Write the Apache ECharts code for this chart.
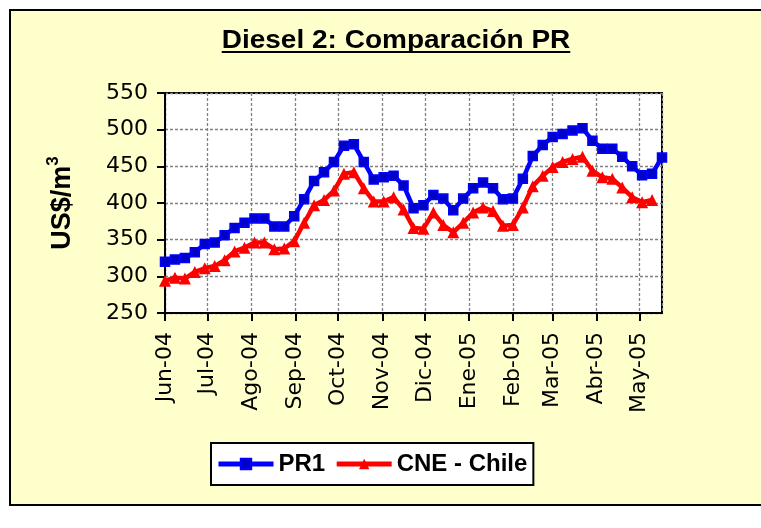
<!DOCTYPE html>
<html>
<head>
<meta charset="utf-8">
<script src="https://cdn.jsdelivr.net/npm/echarts@6/dist/echarts.min.js"></script>
<style>
  html, body { margin: 0; padding: 0; background: #fff; }
  #chart { width: 761px; height: 528px; }
</style>
</head>
<body>
<div id="chart"></div>
<script>
// weekly observation dates
var weeks = [
  '2004-06-01','2004-06-08','2004-06-15','2004-06-22','2004-06-29',
  '2004-07-06','2004-07-13','2004-07-20','2004-07-27',
  '2004-08-03','2004-08-10','2004-08-17','2004-08-24','2004-08-31',
  '2004-09-07','2004-09-14','2004-09-21','2004-09-28',
  '2004-10-05','2004-10-12','2004-10-19','2004-10-26',
  '2004-11-02','2004-11-09','2004-11-16','2004-11-23','2004-11-30',
  '2004-12-07','2004-12-14','2004-12-21','2004-12-28',
  '2005-01-04','2005-01-11','2005-01-18','2005-01-25',
  '2005-02-01','2005-02-08','2005-02-15','2005-02-22',
  '2005-03-01','2005-03-08','2005-03-15','2005-03-22','2005-03-29',
  '2005-04-05','2005-04-12','2005-04-19','2005-04-26',
  '2005-05-03','2005-05-10','2005-05-17'
];

var pr1 = [
  320, 323, 325, 333, 344, 346, 356, 366, 373, 379,
  379, 368, 368, 382, 405, 430, 442, 456, 478, 480,
  456, 432, 435, 437, 424, 393, 397, 411, 406, 390,
  406, 420, 428, 420, 405, 406, 433, 464, 479, 490,
  494, 499, 502, 485, 474, 474, 463, 450, 438, 440,
  462
];

// CNE series stops one week earlier
var cne = [
  294, 298, 297, 306, 311, 314, 322, 334, 339, 346,
  346, 337, 338, 348, 373, 397, 404, 417, 440, 442,
  420, 402, 402, 408, 391, 366, 365, 387, 370, 360,
  373, 387, 394, 389, 369, 370, 394, 423, 437, 449,
  456, 460, 463, 444, 435, 433, 421, 408, 401, 404
];

var meses = ['Ene','Feb','Mar','Abr','May','Jun','Jul','Ago','Sep','Oct','Nov','Dic'];
var yTicks = { min: 250, max: 550, step: 50 };
var titulo = 'Diesel 2: Comparación PR';

function toUTC(s) {
  var p = s.split('-');
  return Date.UTC(+p[0], +p[1] - 1, +p[2]);
}
var times = weeks.map(toUTC);

function pairs(vals) {
  return vals.map(function (v, i) { return [times[i], v]; });
}

// title is drawn a bit wider than normal, like the source
var titleFont = 'bold 25px "Liberation Sans", Arial, sans-serif';
var titleScale = 1.12;
var cv = document.createElement('canvas').getContext('2d');
cv.font = titleFont;
var titleW = cv.measureText(titulo).width * titleScale;
var titleX = 396;

var labelFont = '"DejaVu Sans", sans-serif';
var boldFont = '"Liberation Sans", Arial, sans-serif';

var chart = echarts.init(document.getElementById('chart'), null, { renderer: 'canvas' });

var option = {
  animation: false,
  useUTC: true,
  backgroundColor: '#fff',
  graphic: [
    {
      type: 'rect', z: -10,
      shape: { x: 10, y: 10, width: 770, height: 495 },
      style: { fill: '#ffffcc', stroke: '#000', lineWidth: 2 }
    },
    {
      type: 'text', x: titleX, y: 41, scaleX: titleScale,
      style: {
        text: titulo, font: titleFont, fill: '#000',
        textAlign: 'center', textVerticalAlign: 'middle'
      }
    },
    {
      type: 'line',
      shape: { x1: titleX - titleW / 2, y1: 52, x2: titleX + titleW / 2, y2: 52 },
      style: { stroke: '#000', lineWidth: 2 }
    }
  ],
  grid: {
    left: 165, right: 99, top: 93, bottom: 215,
    show: true, backgroundColor: '#fff', borderColor: '#000', borderWidth: 2
  },
  legend: {
    left: 211, top: 443,
    backgroundColor: '#fff', borderColor: '#000', borderWidth: 2, borderRadius: 0,
    padding: [9, 6, 9, 5],
    itemWidth: 55, itemHeight: 13, itemGap: 9,
    lineStyle: { width: 5 },
    textStyle: {
      fontFamily: boldFont, fontWeight: 'bold', fontSize: 24, color: '#000'
    },
    data: ['PR1', 'CNE - Chile']
  },
  xAxis: {
    type: 'time',
    min: times[0],
    max: times[times.length - 1],
    splitNumber: 12,
    axisLine: { lineStyle: { color: '#000', width: 2 } },
    axisTick: { show: true, length: 8, lineStyle: { color: '#000', width: 2 } },
    axisLabel: {
      rotate: 90, margin: 19, color: '#000', fontSize: 22,
      fontFamily: labelFont,
      hideOverlap: false,
      formatter: function (val) {
        var d = new Date(val);
        if (d.getUTCDate() !== 1) return '';
        return meses[d.getUTCMonth()] + '-' + String(d.getUTCFullYear()).slice(2);
      }
    },
    splitLine: { show: true, lineStyle: { color: '#808080', width: 1.3, type: [3, 2] } }
  },
  yAxis: {
    type: 'value',
    min: yTicks.min, max: yTicks.max, interval: yTicks.step,
    name: '{a|US$/m}{b|3}',
    nameLocation: 'middle',
    nameRotate: 90,
    nameGap: 84,
    nameTextStyle: {
      color: '#000',
      rich: {
        a: { fontFamily: boldFont, fontWeight: 'bold', fontSize: 27, lineHeight: 36, color: '#000' },
        b: { fontFamily: boldFont, fontWeight: 'bold', fontSize: 17, verticalAlign: 'top', color: '#000' }
      }
    },
    axisLine: { show: true, lineStyle: { color: '#000', width: 2 } },
    axisTick: { show: true, length: 8, lineStyle: { color: '#000', width: 2 } },
    axisLabel: {
      margin: 17, color: '#000', fontSize: 22,
      fontFamily: labelFont
    },
    splitLine: { show: true, lineStyle: { color: '#808080', width: 1.3, type: [3, 2] } }
  },
  series: [
    {
      name: 'PR1',
      type: 'line',
      data: pairs(pr1),
      symbol: 'rect',
      symbolSize: 9,
      showAllSymbol: true,
      lineStyle: { color: '#0000ff', width: 4.5 },
      itemStyle: { color: '#0000c8', borderColor: '#0000ff', borderWidth: 1.5 }
    },
    {
      name: 'CNE - Chile',
      type: 'line',
      data: pairs(cne),
      symbol: 'triangle',
      symbolSize: 12,
      showAllSymbol: true,
      lineStyle: { color: '#ff0000', width: 4.5 },
      itemStyle: { color: '#ff0000' }
    }
  ]
};

chart.setOption(option);
</script>
</body>
</html>
